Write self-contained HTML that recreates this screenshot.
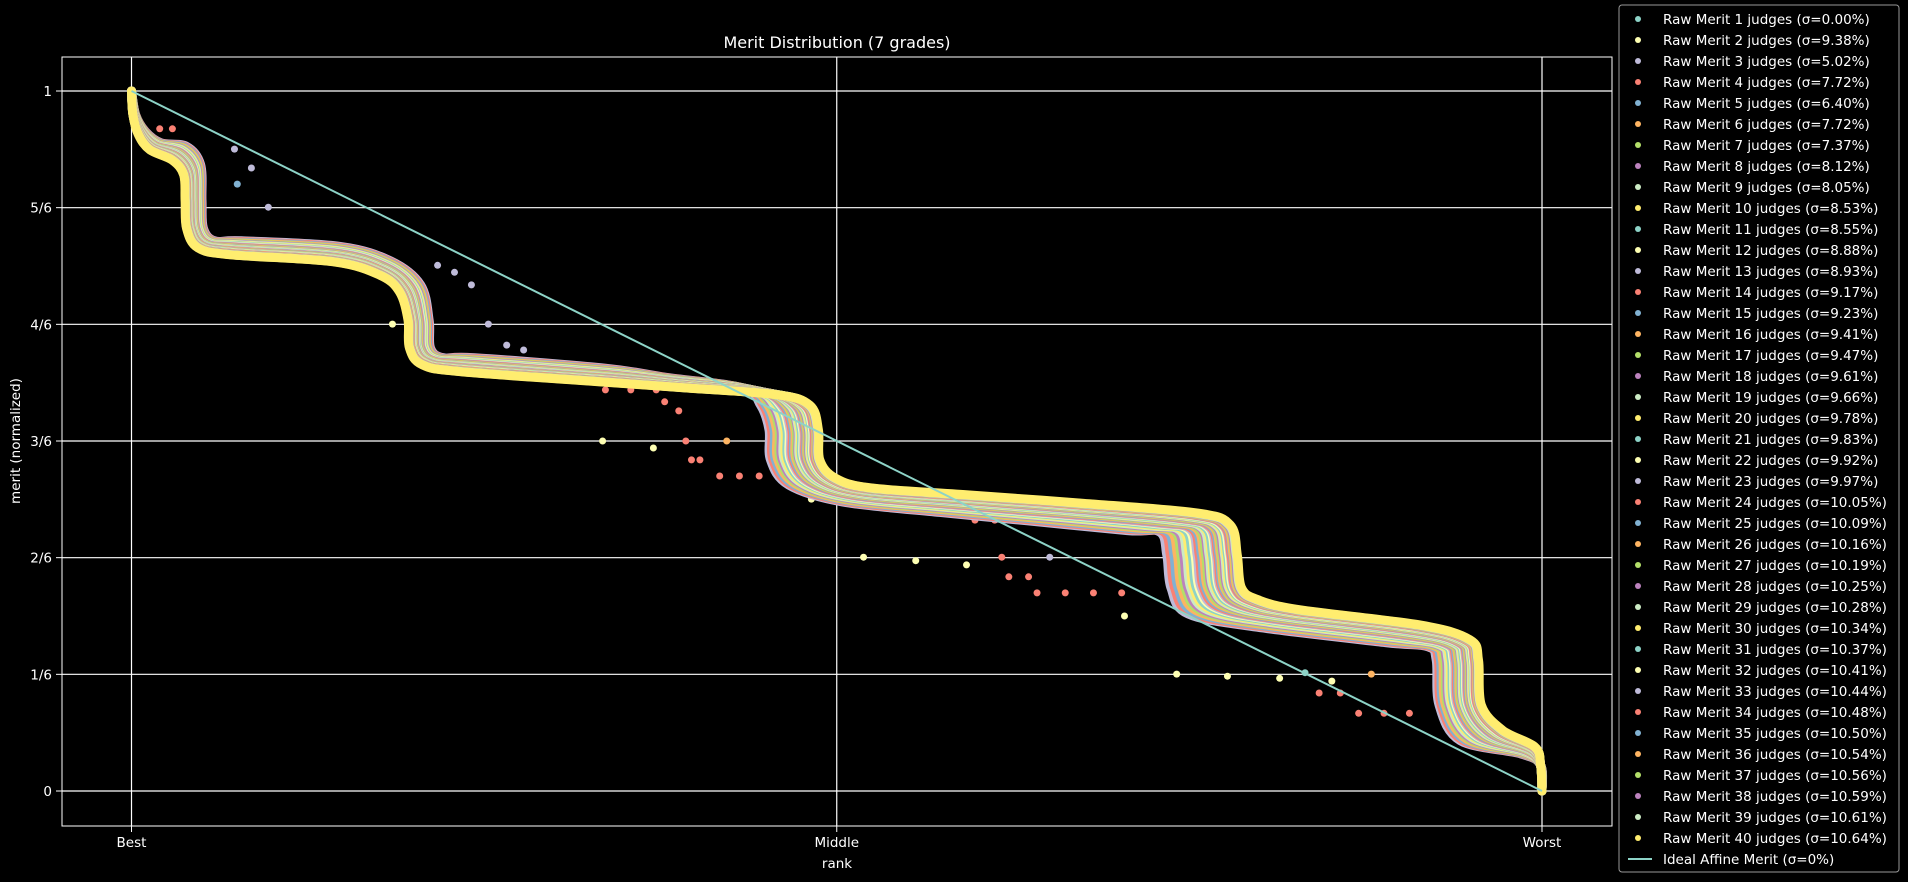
<!DOCTYPE html>
<html><head><meta charset="utf-8"><style>
html,body{margin:0;padding:0;background:#000;}
svg{display:block;font-family:"DejaVu Sans","Liberation Sans",sans-serif;}
</style></head><body>
<svg id="chart" width="1908" height="882" viewBox="0 0 1908 882" xmlns="http://www.w3.org/2000/svg">
<rect x="0" y="0" width="1908" height="882" fill="#000"/>
<g id="grid"></g>
<g id="outliers"></g>
<g id="series"></g>
<g id="ideal"></g>
<rect x="62" y="57" width="1550" height="769" fill="none" stroke="#fff" stroke-width="1"/>
<g id="ticks"></g>
<text x="837" y="48" text-anchor="middle" fill="#fff" font-size="16">Merit Distribution (7 grades)</text>
<text x="837" y="868" text-anchor="middle" fill="#fff" font-size="13.5">rank</text>
<text x="20" y="441" text-anchor="middle" fill="#fff" font-size="13.5" transform="rotate(-90 20 441)">merit (normalized)</text>
<g id="legend"></g>
</svg>
<script>
const yTickValues=[1,5/6,4/6,3/6,2/6,1/6,0];
const yTickLabels=["1","5/6","4/6","3/6","2/6","1/6","0"];
const xTickValues=[0,0.5,1];
const xTickLabels=["Best","Middle","Worst"];
const judges=[1,2,3,4,5,6,7,8,9,10,11,12,13,14,15,16,17,18,19,20,21,22,23,24,25,26,27,28,29,30,31,32,33,34,35,36,37,38,39,40];
const sigmas=["0.00","9.38","5.02","7.72","6.40","7.72","7.37","8.12","8.05","8.53","8.55","8.88","8.93","9.17","9.23","9.41","9.47","9.61","9.66","9.78","9.83","9.92","9.97","10.05","10.09","10.16","10.19","10.25","10.28","10.34","10.37","10.41","10.44","10.48","10.50","10.54","10.56","10.59","10.61","10.64"];
const spreadFactor=[.5,.6,1,.95,.9,.85,.8,.76,.72,.68,.64,.6,.57,.54,.51,.48,.45,.42,.4,.37,.35,.32,.3,.28,.26,.24,.22,.2,.18,.16,.14,.12,.1,.09,.07,.06,.04,.03,.015,0];
// 40-judge curve knots (rank, merit)
const baseRank=[0,.001,.005,.013,.029,.037,.038,.039,.047,.070,.143,.176,.190,.196,.197,.206,.233,.336,.391,.458,.481,.487,.488,.499,.524,.593,.675,.756,.779,.784,.787,.799,.828,.914,.949,.955,.957,.972,.995,.999,1];
const baseMerit=[1,.966,.937,.916,.901,.880,.844,.804,.776,.766,.756,.737,.713,.673,.633,.609,.599,.584,.576,.566,.551,.516,.473,.447,.433,.423,.411,.397,.380,.337,.290,.273,.259,.237,.216,.187,.123,.087,.063,.037,0];
const knotSpread=[0,.002,.005,.008,.01,.012,.012,.012,.012,.008,.005,.008,.015,.015,.015,.015,.01,0,-.012,-.025,-.035,-.035,-.035,-.033,-.02,-.02,-.04,-.05,-.05,-.05,-.05,-.05,-.03,-.025,-.03,-.03,-.03,-.03,-.01,0,0];
const knotLift=[0,0,.005,.01,.02,.015,0,0,.01,.02,.022,.02,.01,0,0,.01,.02,.02,.015,.01,0,0,0,-.01,-.02,-.025,-.025,-.025,-.01,0,0,-.02,-.025,-.025,-.01,0,0,-.015,-.01,0,0];
// scattered low-judge-count points
const outlierRank=[.217,.229,.241,.253,.266,.278,.185,.336,.354,.372,.378,.388,.393,.422,.334,.370,.397,.403,.417,.431,.445,.519,.556,.592,.482,.617,.651,.622,.636,.642,.662,.682,.702,.559,.575,.590,.598,.612,.704,.814,.851,.832,.842,.857,.870,.888,.906,.879,.073,.085,.075,.097,.020,.029,.741,.777];
const outlierMerit=[.751,.741,.723,.667,.637,.630,.667,.573,.573,.573,.556,.543,.500,.500,.500,.490,.473,.473,.450,.450,.450,.334,.329,.323,.417,.334,.334,.306,.306,.283,.283,.283,.283,.406,.406,.406,.387,.387,.250,.161,.157,.169,.140,.140,.111,.111,.111,.167,.917,.890,.867,.834,.946,.946,.167,.164];
const outlierSeries=[3,3,3,3,3,3,2,4,4,4,4,4,4,6,2,2,4,4,4,4,4,2,2,2,2,4,3,4,4,4,4,4,4,4,4,4,4,4,2,2,2,1,4,4,4,4,4,6,3,3,5,3,4,4,2,2];
const palette=["#8dd3c7","#feffb3","#bfbbd9","#fa8174","#81b1d2","#fdb462","#b3de69","#bc82bd","#ccebc4","#ffed6f"];
const NS="http://www.w3.org/2000/svg";
function xs(r){return 131.5+r*(1542-131.5);}
function ys(m){return 791-m*(791-91);}
function mk(t,a,p){const e=document.createElementNS(NS,t);for(const k in a)e.setAttribute(k,a[k]);p.appendChild(e);return e;}
function smoothPath(pts){
  let d='M'+pts[0][0].toFixed(1)+' '+pts[0][1].toFixed(1);
  for(let i=0;i<pts.length-1;i++){
    const p0=pts[Math.max(0,i-1)],p1=pts[i],p2=pts[i+1],p3=pts[Math.min(pts.length-1,i+2)];
    const c1x=p1[0]+(p2[0]-p0[0])/6,c1y=p1[1]+(p2[1]-p0[1])/6;
    const c2x=p2[0]-(p3[0]-p1[0])/6,c2y=p2[1]-(p3[1]-p1[1])/6;
    d+='C'+c1x.toFixed(1)+' '+c1y.toFixed(1)+' '+c2x.toFixed(1)+' '+c2y.toFixed(1)+' '+p2[0].toFixed(1)+' '+p2[1].toFixed(1);
  }
  return d;
}
const grid=document.getElementById('grid'),ticks=document.getElementById('ticks');
yTickValues.forEach((v,i)=>{
  const l=mk('line',{x1:62,x2:1612,y1:ys(v),y2:ys(v),stroke:'#fff','stroke-width':1.2},grid);
  
  
  const t=mk('line',{x1:56,x2:62,y1:ys(v),y2:ys(v),stroke:'#fff'},ticks);
  
  
  const tx=mk('text',{x:52,y:ys(v)+5,'text-anchor':'end',fill:'#fff','font-size':13.5},ticks);
  tx.textContent=yTickLabels[i];
  
  
});
xTickValues.forEach((v,i)=>{
  const l=mk('line',{x1:xs(v),x2:xs(v),y1:57,y2:826,stroke:'#fff','stroke-width':1.2},grid);
  
  
  const t=mk('line',{x1:xs(v),x2:xs(v),y1:826,y2:832,stroke:'#fff'},ticks);
  
  
  const tx=mk('text',{x:xs(v),y:847,'text-anchor':'middle',fill:'#fff','font-size':13.5},ticks);
  tx.textContent=xTickLabels[i];
  
  
});
const og=document.getElementById('outliers');
outlierRank.forEach((r,i)=>{
  const c=mk('circle',{cx:xs(r),cy:ys(outlierMerit[i]),r:3.5,fill:palette[(outlierSeries[i]-1)%10]},og);
  
  
});
const sg=document.getElementById('series');
judges.forEach((n,i)=>{
  const f=spreadFactor[i];
  const pts=baseRank.map((r,k)=>{
    const rr=Math.min(1,Math.max(0,r+f*knotSpread[k]));
    const mm=baseMerit[k]+f*knotLift[k];
    return [xs(rr),ys(mm)];
  });
  const p=mk('path',{d:smoothPath(pts),fill:'none',stroke:palette[i%10],'stroke-width':9,'stroke-linecap':'round','stroke-linejoin':'round'},sg);
  
  
});
const ig=document.getElementById('ideal');
const il=mk('line',{x1:xs(0),y1:ys(1),x2:xs(1),y2:ys(0),stroke:'#8dd3c7','stroke-width':2},ig);


const lg=document.getElementById('legend');
const box=mk('rect',{x:1619,y:5,width:280,height:867,rx:3,fill:'#000',stroke:'#999','stroke-width':1},lg);


judges.forEach((n,i)=>{
  const y=19+21*i;
  const c=mk('circle',{cx:1638,cy:y,r:3,fill:palette[i%10]},lg);
  
  
  const t=mk('text',{x:1663,y:y+5,fill:'#fff','font-size':13.5},lg);
  t.textContent='Raw Merit '+n+' judges (\u03c3='+sigmas[i]+'%)';
  
  
});
const ll=mk('line',{x1:1628,x2:1652,y1:859,y2:859,stroke:'#8dd3c7','stroke-width':2},lg);


const lt=mk('text',{x:1663,y:864,fill:'#fff','font-size':13.5},lg);
lt.textContent='Ideal Affine Merit (\u03c3=0%)';


</script>
</body></html>
